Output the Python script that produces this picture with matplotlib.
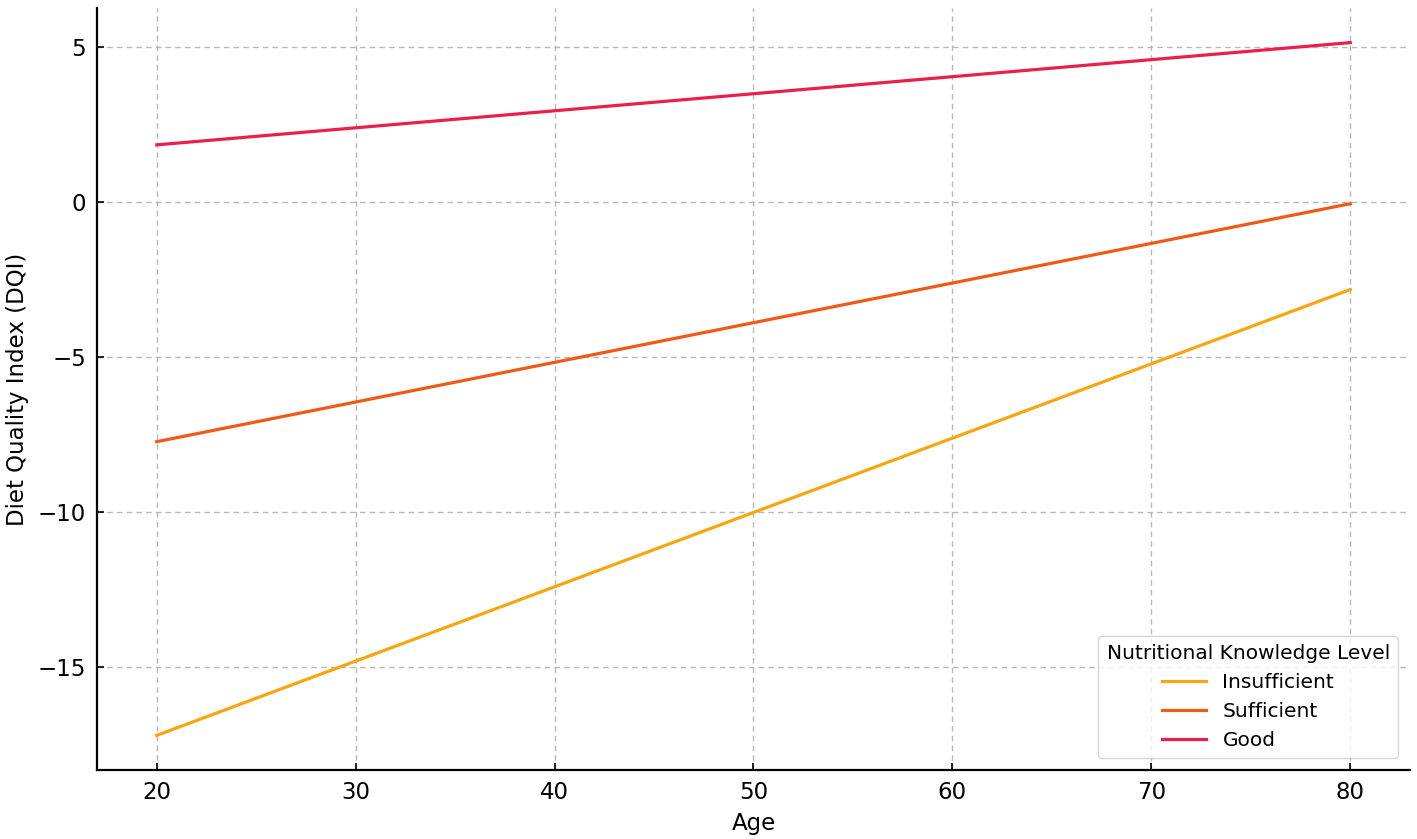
import matplotlib
matplotlib.use("Agg")
import matplotlib.pyplot as plt
import numpy as np

# endpoints of each fitted line (age 20 -> 80)
ages = np.array([20, 80])
levels = ["Insufficient", "Sufficient", "Good"]
dqi_insufficient = np.array([-17.22, -2.83])
dqi_sufficient = np.array([-7.74, -0.06])
dqi_good = np.array([1.84, 5.14])
colors = ["#F5A612", "#EE5A18", "#E8204A"]

fig = plt.figure(figsize=(14.17, 8.39), dpi=100)
ax = fig.add_axes([0.0685, 0.0822, 0.9265, 0.9083])

for name, vals, col in zip(levels, [dqi_insufficient, dqi_sufficient, dqi_good], colors):
    ax.plot(ages, vals, color=col, lw=2.3, label=name)

ax.grid(True, ls=(0, (4, 3)), color="#b8b8b8", lw=1.0)
ax.set_axisbelow(True)
for s in ["top", "right"]:
    ax.spines[s].set_visible(False)
for s in ["left", "bottom"]:
    ax.spines[s].set_linewidth(1.6)
ax.tick_params(direction="in", length=5, width=1.2, labelsize=16.5, pad=8)
ax.set_xticks([20, 30, 40, 50, 60, 70, 80])
ax.set_yticks([-15, -10, -5, 0, 5])
ax.set_yticklabels(["\u221215", "\u221210", "\u22125", "0", "5"])

ax.set_xlabel("Age", fontsize=16.5, labelpad=6)
ax.set_ylabel("Diet Quality Index (DQI)", fontsize=16.5, labelpad=6)

leg = ax.legend(title="Nutritional Knowledge Level", loc="lower right",
                fontsize=14.5, title_fontsize=14.5, frameon=True,
                borderaxespad=0.6, handlelength=2.2)
leg.get_frame().set_edgecolor("#cccccc")

fig.savefig("out.png", dpi=100)
